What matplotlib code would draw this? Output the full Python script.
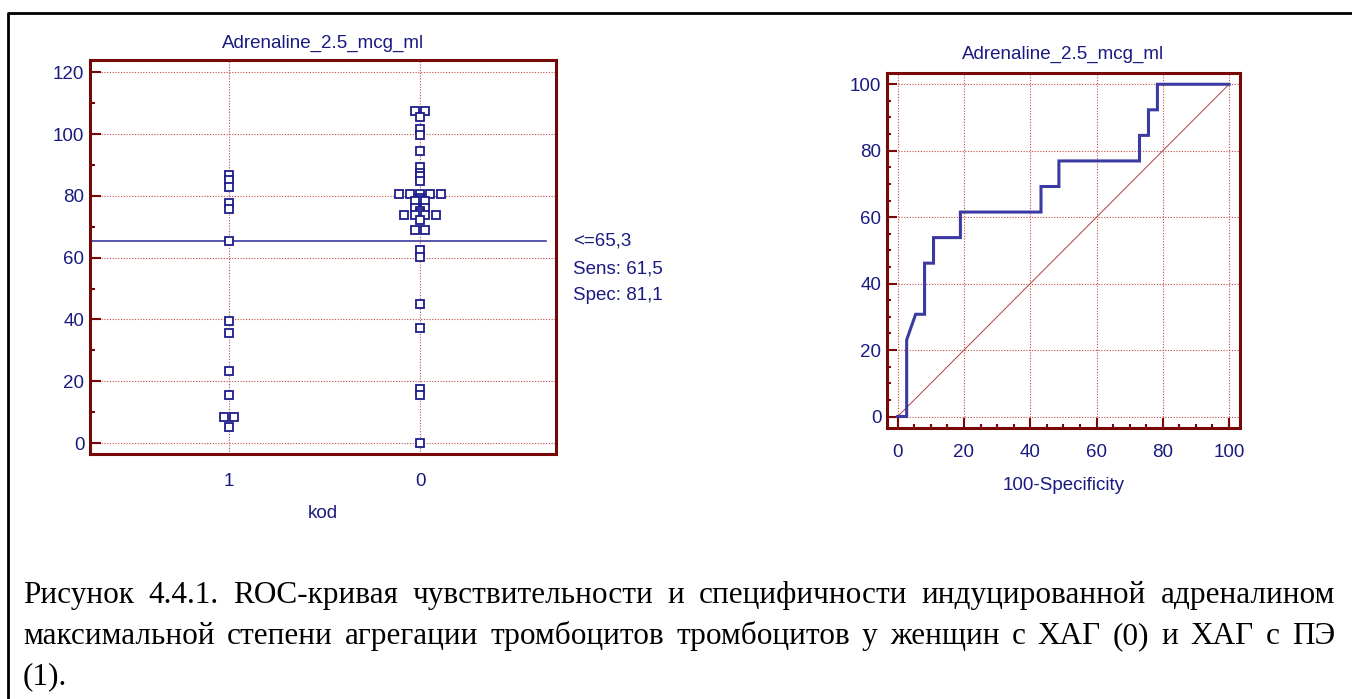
import numpy as np
import matplotlib
matplotlib.use("Agg")
import matplotlib.pyplot as plt
from matplotlib.lines import Line2D
from matplotlib.ticker import MultipleLocator

# values (kod = 1 and kod = 0)
kod_labels = ["1", "0"]
group_1 = [86.7, 85.3, 82.9, 77.8, 75.9, 65.3, 39.4, 35.6, 23.2, 15.7, 8.3, 8.3, 5.2]
group_0 = [107.6, 107.6, 105.6, 101.6, 99.7, 94.4, 89.4, 87.5, 86.4, 84.9,
           80.6, 80.6, 80.6, 80.6, 80.6, 79.4, 78.6, 78.3, 78.3, 76.2, 76.2,
           75.2, 74.4, 73.7, 73.7, 73.7, 73.7, 72.1, 69.1, 69.1,
           62.4, 60.3, 45.1, 37.3, 17.4, 15.7, 0.0]
cutoff = 65.3
title = "Adrenaline_2.5_mcg_ml"
caption_lines = [
    "Рисунок 4.4.1. ROC-кривая чувствительности и специфичности индуцированной адреналином",
    "максимальной степени агрегации тромбоцитов тромбоцитов у женщин с ХАГ (0) и ХАГ с ПЭ",
    "(1).",
]

W, H = 1352, 699
NAVY = "#1a1a80"
MAROON = "#780808"
GRID = "#c04848"
MARK = "#1c1c8c"
LINE = "#3a3aa2"

plt.rcParams["font.family"] = ["Liberation Sans", "DejaVu Sans"]
fig = plt.figure(figsize=(W / 100, H / 100), dpi=100)


def px_axes(x0, y0, x1, y1):
    # axes from pixel box (top-left origin)
    return fig.add_axes([x0 / W, 1 - y1 / H, (x1 - x0) / W, (y1 - y0) / H])


def style_axes(ax):
    for s in ax.spines.values():
        s.set_color(MAROON)
        s.set_linewidth(2.2)
    ax.tick_params(which="both", direction="in", colors=MAROON, width=1.5,
                   labelcolor=NAVY, labelsize=13.5)
    ax.grid(True, which="major", color=GRID, linestyle=(0, (1, 1.5)), linewidth=0.8)
    ax.set_axisbelow(True)


# ---------------- dot plot ----------------
ax1 = px_axes(90, 60, 556, 454)
ax1.set_xlim(-0.728, 1.712)
ax1.set_ylim(-3.56, 124.0)
style_axes(ax1)
ax1.yaxis.set_major_locator(MultipleLocator(20))
ax1.yaxis.set_minor_locator(MultipleLocator(10))
ax1.tick_params(axis="y", which="major", length=8, pad=4)
ax1.tick_params(axis="y", which="minor", length=3.6)
ax1.set_xticks([0, 1])
ax1.set_xticklabels(kod_labels)
ax1.tick_params(axis="x", length=0, pad=14)

px_per_unit = 466 / (1.712 + 0.728)
step = 10.4 / px_per_unit


def swarm_x(values, center):
    values = np.asarray(values)
    xs = np.full(len(values), float(center))
    for v in np.unique(values):
        idx = np.where(values == v)[0]
        n = len(idx)
        xs[idx] = center + (np.arange(n) - (n - 1) / 2) * step
    return xs


for pos, vals in enumerate([group_1, group_0]):
    ax1.plot(swarm_x(vals, pos), vals, "s", ms=6.3, mfc="white", mec=MARK,
             mew=1.3, linestyle="none", zorder=3)

ax1.axhline(cutoff, xmin=0.005, xmax=0.978, color=LINE, lw=1.2, zorder=2)

g1 = np.array(group_1)
g0 = np.array(group_0)
sens = np.mean(g1 <= cutoff) * 100
spec = np.mean(g0 > cutoff) * 100
notes = [f"<={cutoff:.1f}".replace(".", ","),
         f"Sens: {sens:.1f}".replace(".", ","),
         f"Spec: {spec:.1f}".replace(".", ",")]
for i, s in enumerate(notes):
    ax1.annotate(s, xy=(1.0365, cutoff), xycoords=("axes fraction", "data"),
                 xytext=(0, -i * 19.6), textcoords="offset points",
                 va="center", ha="left", color=NAVY, fontsize=13.5,
                 annotation_clip=False)

ax1.set_title(title, color=NAVY, fontsize=13.5, y=1.043, va="center", pad=0)
ax1.set_xlabel("kod", color=NAVY, fontsize=13.5)
ax1.xaxis.set_label_coords(0.5, -0.15)
ax1.xaxis.label.set_va("center")

# ---------------- ROC curve ----------------
thr = np.unique(np.concatenate([g1, g0]))
fpr = [0.0] + [np.mean(g0 <= t) * 100 for t in thr]
tpr = [0.0] + [np.mean(g1 <= t) * 100 for t in thr]

ax2 = px_axes(887, 73.3, 1240, 427.7)
ax2.set_xlim(-3.23, 103.3)
ax2.set_ylim(-3.37, 103.3)
style_axes(ax2)
for axis in (ax2.xaxis, ax2.yaxis):
    axis.set_major_locator(MultipleLocator(20))
    axis.set_minor_locator(MultipleLocator(5))
ax2.tick_params(which="major", length=7.2)
ax2.tick_params(which="minor", length=3.2)
ax2.tick_params(axis="x", pad=12)
ax2.tick_params(axis="y", pad=4)

ax2.plot([0, 100], [0, 100], color="#b04040", lw=0.7, zorder=2)
ax2.plot(fpr, tpr, color=LINE, lw=2.2, zorder=3, solid_joinstyle="miter")

ax2.set_title(title, color=NAVY, fontsize=13.5, y=1.0545, va="center", pad=0)
ax2.set_xlabel("100-Specificity", color=NAVY, fontsize=13.5)
ax2.xaxis.set_label_coords(0.5, -0.1617)
ax2.xaxis.label.set_va("center")

# ---------------- page frame ----------------
fig.add_artist(Line2D([8 / W, 8 / W, 1.0], [0.0, 1 - 13 / H, 1 - 13 / H],
                      transform=fig.transFigure, color="black", lw=2.0))

# ---------------- caption (justified) ----------------
renderer = fig.canvas.get_renderer()
cap_font = dict(family=["Liberation Serif", "DejaVu Serif"], fontsize=22.5, color="black")
x_left, x_right = 23, 1335
baselines = [603, 644, 684]

for k, line in enumerate(caption_lines):
    y = 1 - baselines[k] / H
    words = line.split(" ")
    if k == len(caption_lines) - 1:
        fig.text(x_left / W, y, line, ha="left", va="baseline", **cap_font)
        continue
    arts = [fig.text(0, y, w, ha="left", va="baseline", **cap_font) for w in words]
    widths = [a.get_window_extent(renderer).width for a in arts]
    gap = (x_right - x_left - sum(widths)) / (len(words) - 1)
    x = x_left
    for a, wd in zip(arts, widths):
        a.set_x(x / W)
        x += wd + gap

fig.savefig("out.png", dpi=100)
